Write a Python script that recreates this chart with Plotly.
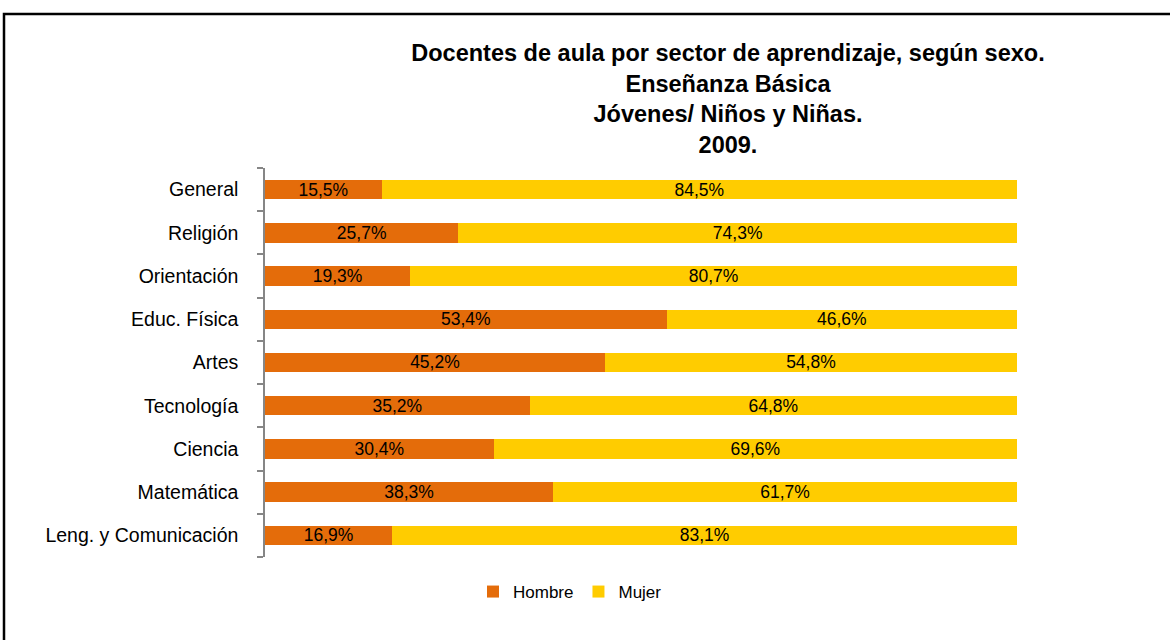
import plotly.graph_objects as go

categories = ["General", "Religión", "Orientación", "Educ. Física", "Artes",
              "Tecnología", "Ciencia", "Matemática", "Leng. y Comunicación"]
hombre = [15.5, 25.7, 19.3, 53.4, 45.2, 35.2, 30.4, 38.3, 16.9]
mujer = [84.5, 74.3, 80.7, 46.6, 54.8, 64.8, 69.6, 61.7, 83.1]

W, H = 1170, 640
L, R, T, B = 265, 153, 168, 83
pw, ph = W - L - R, H - T - B

def fmt(v):
    return f"{v:.1f}%".replace(".", ",")

font_family = "Liberation Sans, Arial, sans-serif"

fig = go.Figure()
fig.add_trace(go.Bar(
    y=categories, x=hombre, name="Hombre", orientation="h",
    marker=dict(color="#E46C0A", line=dict(width=0)),
    text=[fmt(v) for v in hombre], textposition="inside", insidetextanchor="middle",
    textfont=dict(color="black", size=17.5, family=font_family),
    constraintext="none",
))
fig.add_trace(go.Bar(
    y=categories, x=mujer, name="Mujer", orientation="h",
    marker=dict(color="#FFCC00", line=dict(width=0)),
    text=[fmt(v) for v in mujer], textposition="inside", insidetextanchor="middle",
    textfont=dict(color="black", size=17.5, family=font_family),
    constraintext="none",
))

def px_x(x):
    return (x - L) / pw

def px_y(y):
    return (H - B - y) / ph

fig.update_layout(
    width=W, height=H,
    barmode="stack", bargap=0.55,
    uniformtext=dict(mode=False),
    margin=dict(l=L, r=R, t=T, b=B),
    paper_bgcolor="white", plot_bgcolor="white",
    font=dict(family=font_family, size=17, color="black"),
    title=dict(
        text="<b>Docentes de aula por sector de aprendizaje, según sexo.<br>Enseñanza Básica<br>Jóvenes/ Niños y Niñas.<br>2009.</b>",
        x=728 / W, xanchor="center", xref="container",
        y=1 - 61 / H, yanchor="top", yref="container",
        font=dict(size=23.5, family=font_family, color="black"),
    ),
    xaxis=dict(range=[0, 100], visible=False, fixedrange=True),
    yaxis=dict(
        categoryorder="array", categoryarray=categories[::-1],
        autorange=False, range=[-0.5, len(categories) - 0.5],
        showline=True, linecolor="#868686", linewidth=1.5,
        ticks="outside", tickson="boundaries", ticklen=6, tickcolor="#868686", tickwidth=1.5,
        showgrid=False, ticklabelstandoff=21,
        tickfont=dict(size=19.5, family=font_family, color="black"),
    ),
    legend=dict(
        orientation="h", x=px_x(570), xanchor="center", y=px_y(592), yanchor="middle",
        font=dict(size=17, family=font_family, color="black"),
        itemwidth=30, traceorder="normal",
    ),
    showlegend=True,
)

# outer frame (top and left visible, extends beyond right/bottom)
fig.add_shape(type="rect", xref="paper", yref="paper",
              x0=px_x(4), x1=px_x(W + 10), y0=px_y(H + 10), y1=px_y(14),
              line=dict(color="black", width=2.5), fillcolor="rgba(0,0,0,0)", layer="below")

fig.write_html("out.html", config={"displayModeBar": False},
               post_script="document.body.style.margin='0';document.body.style.overflow='hidden';")
